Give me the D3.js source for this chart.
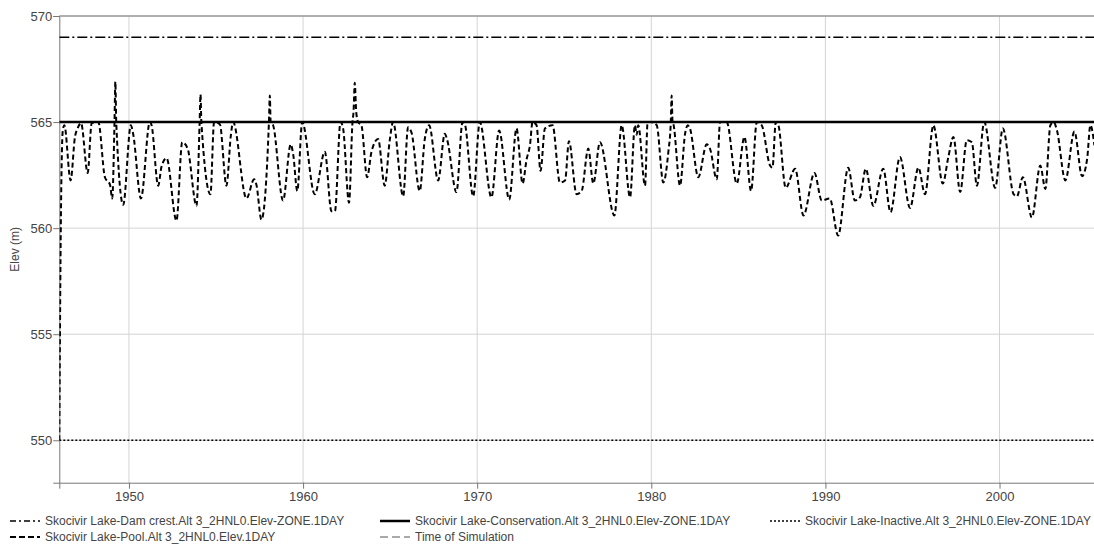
<!DOCTYPE html>
<html lang="en">
<head>
  <meta charset="UTF-8" />
  <title>Skocivir Lake Elevation</title>
  <script src="https://d3js.org/d3.v7.min.js"></script>
  <style>
    body { margin: 0; background: #fff; font-family: "Liberation Sans", Arial, sans-serif; }
    .tick text { fill: #444; font-size: 13px; }
    .legend text { fill: #444; font-size: 12px; }
  </style>
</head>
<body>
  <svg width="1094" height="546"></svg>

  <script>
  // pool elevation (decimal year, m)
  const poolYears = [
    1946.00, 1946.08, 1946.20, 1946.29, 1946.65, 1946.90, 1947.05, 1947.25, 1947.63, 1947.86,
    1948.24, 1948.62, 1948.91, 1949.04, 1949.17, 1949.22, 1949.27, 1949.67, 1950.11, 1950.24,
    1950.69, 1951.20, 1951.30, 1951.68, 1951.87, 1952.16, 1952.73, 1953.06, 1953.37, 1953.88,
    1954.06, 1954.11, 1954.16, 1954.68, 1954.89, 1955.22, 1955.60, 1955.85, 1955.98, 1956.75,
    1957.19, 1957.32, 1957.61, 1958.04, 1958.09, 1958.14, 1958.28, 1958.85, 1959.29, 1959.43,
    1959.67, 1959.95, 1960.67, 1961.25, 1961.63, 1961.83, 1962.15, 1962.30, 1962.64, 1962.84,
    1962.90, 1962.97, 1963.05, 1963.16, 1963.35, 1963.68, 1963.93, 1964.31, 1964.69, 1964.98,
    1965.17, 1965.75, 1966.03, 1966.23, 1966.70, 1966.99, 1967.24, 1967.76, 1968.14, 1968.28,
    1968.81, 1969.16, 1969.29, 1969.77, 1970.15, 1970.82, 1971.26, 1971.84, 1972.26, 1972.61,
    1972.84, 1973.03, 1973.18, 1973.41, 1973.64, 1973.89, 1974.33, 1974.75, 1975.05, 1975.27,
    1975.71, 1976.00, 1976.38, 1976.67, 1977.05, 1977.88, 1978.30, 1978.78, 1979.06, 1979.16,
    1979.25, 1979.64, 1979.79, 1979.98, 1980.31, 1980.69, 1980.98, 1981.12, 1981.17, 1981.22,
    1981.27, 1981.65, 1981.94, 1982.09, 1982.22, 1982.70, 1983.18, 1983.37, 1983.76, 1983.95,
    1984.33, 1984.91, 1985.35, 1985.73, 1986.06, 1986.34, 1986.82, 1986.96, 1987.15, 1987.30,
    1987.72, 1988.26, 1988.74, 1989.37, 1989.79, 1990.25, 1990.73, 1991.31, 1991.69, 1991.98,
    1992.32, 1992.75, 1993.32, 1993.74, 1994.28, 1994.86, 1995.34, 1995.72, 1996.20, 1996.74,
    1997.06, 1997.35, 1997.74, 1998.12, 1998.41, 1998.70, 1999.12, 1999.75, 2000.19, 2000.81,
    2001.00, 2001.34, 2001.86, 2002.34, 2002.63, 2002.92, 2003.11, 2003.30, 2003.78, 2004.30,
    2004.74, 2005.03, 2005.22, 2005.45
  ];
  const poolElev = [
    550.0, 559.5, 564.6, 564.85, 562.25, 564.3, 564.7, 564.95, 562.6, 564.95,
    565.0, 562.4, 562.05, 561.4, 565.0, 566.9, 565.0, 561.1, 564.85, 564.45,
    561.4, 565.0, 564.85, 562.0, 562.9, 563.3, 560.35, 564.05, 563.75, 561.05,
    565.0, 566.3, 565.0, 561.6, 565.0, 564.9, 562.0, 564.35, 565.0, 561.4,
    562.3, 562.05, 560.4, 565.0, 566.25, 565.0, 564.85, 561.3, 563.95, 563.5,
    561.75, 565.0, 561.6, 563.6, 560.8, 560.8, 565.0, 564.7, 561.2, 565.0,
    565.5, 566.85, 565.5, 565.0, 564.85, 562.4, 563.6, 564.2, 562.0, 564.15,
    565.0, 561.5, 564.75, 564.5, 561.75, 564.2, 564.85, 562.25, 564.45, 564.15,
    561.7, 565.0, 564.9, 561.5, 565.0, 561.45, 564.6, 561.35, 564.7, 562.1,
    563.25, 563.9, 565.0, 564.85, 562.7, 564.7, 564.85, 562.15, 562.25, 564.1,
    561.6, 561.75, 563.75, 562.1, 564.05, 560.6, 564.85, 561.45, 564.85, 564.4,
    564.85, 562.0, 565.0, 565.0, 564.85, 562.15, 563.6, 565.0, 566.25, 565.0,
    564.9, 562.0, 564.45, 564.85, 564.7, 562.4, 563.95, 563.75, 562.3, 565.0,
    565.0, 562.1, 564.3, 561.75, 565.0, 564.85, 562.95, 562.85, 565.0, 564.85,
    561.9, 562.8, 560.6, 562.6, 561.3, 561.4, 559.65, 562.85, 561.3, 561.45,
    562.8, 561.05, 562.8, 560.75, 563.35, 560.95, 562.85, 561.6, 564.85, 562.1,
    563.35, 564.3, 561.7, 564.15, 564.05, 562.0, 565.0, 561.9, 564.7, 561.6,
    561.5, 562.4, 560.5, 562.95, 561.85, 564.85, 565.0, 564.6, 562.25, 564.55,
    562.45, 563.25, 564.85, 563.9
  ];

  // zone levels (m)
  const damCrest = 569;
  const conservation = 565;
  const inactive = 550;

  const xTicks = [1950, 1960, 1970, 1980, 1990, 2000];
  const yTicks = [550, 555, 560, 565, 570];

  const legendNames = [
    "Skocivir Lake-Dam crest.Alt 3_2HNL0.Elev-ZONE.1DAY",
    "Skocivir Lake-Conservation.Alt 3_2HNL0.Elev-ZONE.1DAY",
    "Skocivir Lake-Inactive.Alt 3_2HNL0.Elev-ZONE.1DAY",
    "Skocivir Lake-Pool.Alt 3_2HNL0.Elev.1DAY",
    "Time of Simulation"
  ];

  const svg = d3.select("svg");
  const mLeft = 59.3, mTop = 16, mBottom = 482.7, xEnd = 1104;

  const x = d3.scaleLinear().domain([1946, 2006]).range([mLeft, xEnd]);
  const y = d3.scaleLinear().domain([548, 570]).range([mBottom, mTop]);

  svg.append("defs").append("clipPath").attr("id", "plot")
    .append("rect").attr("x", mLeft).attr("y", mTop - 2)
    .attr("width", xEnd - mLeft).attr("height", mBottom - mTop + 2);

  // grid
  const grid = svg.append("g").attr("stroke", "#d4d4d4").attr("stroke-width", 1);
  grid.selectAll("line.v").data(xTicks).enter().append("line")
    .attr("x1", d => x(d)).attr("x2", d => x(d))
    .attr("y1", mTop).attr("y2", mBottom);
  grid.selectAll("line.h").data(yTicks).enter().append("line")
    .attr("x1", mLeft).attr("x2", 1094)
    .attr("y1", d => y(d)).attr("y2", d => y(d));

  // axes
  const xAxis = svg.append("g")
    .attr("transform", `translate(0,${mBottom})`)
    .call(d3.axisBottom(x).tickValues(xTicks).tickFormat(d3.format("d")).tickSize(6).tickPadding(3));
  const yAxis = svg.append("g")
    .attr("transform", `translate(${mLeft},0)`)
    .call(d3.axisLeft(y).tickValues(yTicks).tickFormat(d3.format("d")).tickSize(6).tickPadding(1));
  [xAxis, yAxis].forEach(a => {
    a.select(".domain").attr("stroke", "#777");
    a.selectAll(".tick line").attr("stroke", "#777");
  });
  svg.append("line").attr("x1", mLeft).attr("x2", 1094).attr("y1", mTop).attr("y2", mTop)
    .attr("stroke", "#777");

  svg.append("text")
    .attr("transform", `translate(19,${(mTop + mBottom) / 2}) rotate(-90)`)
    .attr("text-anchor", "middle")
    .attr("fill", "#444")
    .style("font-size", "12px")
    .text("Elev (m)");

  // series
  const plot = svg.append("g").attr("clip-path", "url(#plot)");
  const hline = (v, width, dash) => plot.append("line")
    .attr("x1", x(1946)).attr("x2", x(2006))
    .attr("y1", y(v)).attr("y2", y(v))
    .attr("stroke", "#000").attr("stroke-width", width)
    .attr("stroke-dasharray", dash);

  hline(damCrest, 1.5, "10,3,2,3");
  hline(inactive, 1.5, "2,2");

  const poolData = poolYears.map((t, i) => [t, poolElev[i]]);
  plot.append("path")
    .datum(poolData)
    .attr("fill", "none")
    .attr("stroke", "#000")
    .attr("stroke-width", 2)
    .attr("stroke-dasharray", "5,3")
    .attr("d", d3.line().x(d => x(d[0])).y(d => y(d[1])).curve(d3.curveMonotoneX));

  hline(conservation, 2.5, null);

  // legend
  const items = [
    { col: 10, row: 521, dash: "6,3,2,3", w: 1.5, c: "#000" },
    { col: 380, row: 521, dash: null, w: 2.5, c: "#000" },
    { col: 770, row: 521, dash: "2,2", w: 1.5, c: "#000" },
    { col: 10, row: 537, dash: "6,3", w: 2, c: "#000" },
    { col: 380, row: 537, dash: "8,4", w: 1, c: "#555" }
  ];
  const lg = svg.append("g").attr("class", "legend");
  items.forEach((it, i) => {
    lg.append("line")
      .attr("x1", it.col).attr("x2", it.col + 30)
      .attr("y1", it.row).attr("y2", it.row)
      .attr("stroke", it.c).attr("stroke-width", it.w)
      .attr("stroke-dasharray", it.dash);
    lg.append("text")
      .attr("x", it.col + 35).attr("y", it.row)
      .attr("dy", "0.35em")
      .text(legendNames[i]);
  });
  </script>
</body>
</html>
